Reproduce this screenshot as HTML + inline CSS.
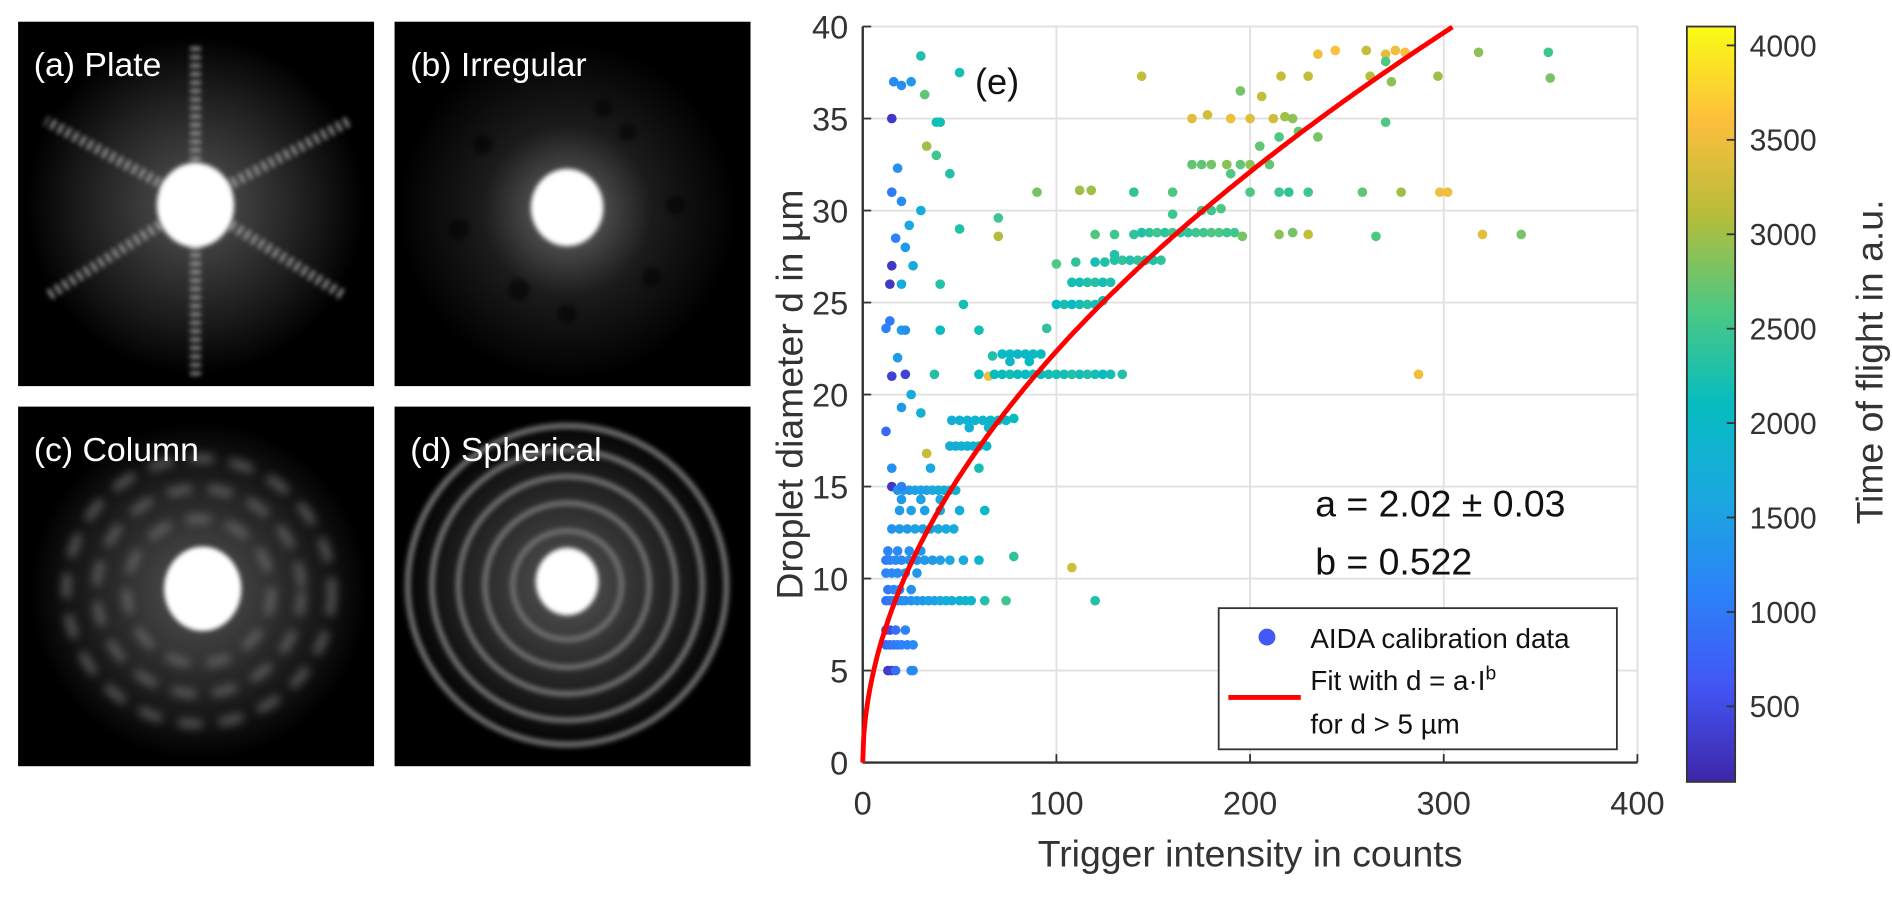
<!DOCTYPE html>
<html><head><meta charset="utf-8">
<style>
body{margin:0;background:#fff;width:1892px;height:897px;overflow:hidden;font-family:"Liberation Sans",sans-serif;}
svg{display:block;}
</style></head>
<body>
<svg id="root" width="1892" height="897" viewBox="0 0 1568 743.4" preserveAspectRatio="none" xmlns="http://www.w3.org/2000/svg">
<defs>
<filter id="bl2"><feGaussianBlur stdDeviation="2"/></filter>
<filter id="bl4"><feGaussianBlur stdDeviation="4"/></filter>
<filter id="bl8"><feGaussianBlur stdDeviation="8"/></filter>
<radialGradient id="glow"><stop offset="0" stop-color="#888"/><stop offset="0.5" stop-color="#222"/><stop offset="1" stop-color="#000"/></radialGradient>
<radialGradient id="glow2"><stop offset="0" stop-color="#555"/><stop offset="0.7" stop-color="#1a1a1a"/><stop offset="1" stop-color="#000"/></radialGradient>
<linearGradient id="parula" x1="0" y1="1" x2="0" y2="0">
<stop offset="0" stop-color="#3e26a8"/><stop offset="0.125" stop-color="#4255f4"/><stop offset="0.25" stop-color="#2c82f8"/><stop offset="0.375" stop-color="#1aa8df"/><stop offset="0.5" stop-color="#06bcc0"/><stop offset="0.625" stop-color="#4cc882"/><stop offset="0.75" stop-color="#b6bd3a"/><stop offset="0.875" stop-color="#fdbe3d"/><stop offset="1" stop-color="#f9fb15"/>
</linearGradient>
</defs>

<g>
<rect x="15" y="18" width="295" height="302" fill="#000"/>
<circle cx="162" cy="170" r="140" fill="url(#glow2)"/>
<g stroke="#bbb" stroke-width="9" stroke-dasharray="3 4" filter="url(#bl2)" opacity="0.8">
<line x1="162" y1="168" x2="162" y2="35"/><line x1="162" y1="168" x2="162" y2="312"/>
<line x1="162" y1="168" x2="38" y2="100"/><line x1="162" y1="168" x2="290" y2="100"/>
<line x1="162" y1="168" x2="40" y2="245"/><line x1="162" y1="168" x2="285" y2="245"/>
</g>
<ellipse cx="162" cy="170" rx="32" ry="35" fill="#fff" filter="url(#bl2)"/>
<text x="28" y="63" fill="#fff" font-size="28">(a) Plate</text>
</g>
<g>
<rect x="327" y="18" width="295" height="302" fill="#000"/>
<circle cx="470" cy="175" r="140" fill="url(#glow)" opacity="0.8"/>
<g fill="#000" opacity="0.5" filter="url(#bl2)">
<circle cx="400" cy="120" r="8"/><circle cx="430" cy="240" r="9"/><circle cx="520" cy="110" r="7"/><circle cx="540" cy="230" r="8"/><circle cx="380" cy="190" r="9"/><circle cx="560" cy="170" r="8"/><circle cx="470" cy="260" r="8"/><circle cx="500" cy="90" r="7"/>
</g>
<ellipse cx="470" cy="172" rx="30" ry="32" fill="#fff" filter="url(#bl2)"/>
<text x="340" y="63" fill="#fff" font-size="28">(b) Irregular</text>
</g>
<g>
<rect x="15" y="337" width="295" height="298" fill="#000"/>
<circle cx="165" cy="490" r="140" fill="url(#glow2)"/>
<g fill="none" stroke="#777" stroke-width="6" stroke-dasharray="20 14" filter="url(#bl4)" opacity="0.8">
<circle cx="165" cy="490" r="60"/><circle cx="165" cy="490" r="85"/><circle cx="165" cy="490" r="110"/>
</g>
<ellipse cx="168" cy="488" rx="32" ry="35" fill="#fff" filter="url(#bl2)"/>
<text x="28" y="382" fill="#fff" font-size="28">(c) Column</text>
</g>
<g>
<rect x="327" y="337" width="295" height="298" fill="#000"/>
<circle cx="470" cy="485" r="140" fill="url(#glow2)"/>
<g fill="none" stroke="#6a6a6a" stroke-width="5" filter="url(#bl2)">
<circle cx="470" cy="485" r="45"/><circle cx="470" cy="485" r="68"/><circle cx="470" cy="485" r="90"/><circle cx="470" cy="485" r="112"/><circle cx="470" cy="485" r="132"/>
</g>
<ellipse cx="470" cy="482" rx="26" ry="28" fill="#fff" filter="url(#bl2)"/>
<text x="340" y="382" fill="#fff" font-size="28">(d) Spherical</text>
</g>

<g id="chart"></g>
<g id="cbar"></g>
</svg>
<script>
const xTicks=[0,100,200,300,400];
const yTicks=[0,5,10,15,20,25,30,35,40];
const cTicks=[500,1000,1500,2000,2500,3000,3500,4000];
const fitA=2.02, fitB=0.522;
const ptsX=[13,15,17,25,26,12,14,16,18,20,23,26,12,14,17,22,12,14,16,18,20,22,25,28,31,34,37,40,43,46,50,53,56,63,74,120,13,16,19,25,12,15,18,22,28,12,14,17,20,24,28,32,36,40,45,52,60,78,108,13,18,24,30,15,19,23,27,31,35,39,43,47,15,18,21,24,27,30,33,36,39,42,45,48,20,30,40,19,25,32,40,50,63,33,45,48,51,54,57,60,64,46,50,54,58,62,66,70,74,78,55,65,22,37,60,65,68,72,76,80,84,88,92,96,100,104,108,112,116,120,124,128,134,287,67,72,76,80,84,88,92,76,86,20,40,60,95,52,100,104,108,112,116,120,124,40,108,112,116,120,124,128,100,110,120,125,130,134,138,142,146,150,154,130,70,120,130,140,144,148,152,156,160,164,168,172,176,180,184,188,192,196,215,222,230,265,320,340,70,160,175,180,185,90,112,118,140,160,200,215,220,230,258,278,298,302,170,175,180,188,195,200,210,190,33,205,215,225,235,15,38,170,178,190,200,212,218,222,270,195,206,216,144,230,262,297,355,273,235,244,260,270,275,280,318,354,270,30,20,25,50,32,40,38,18,45,20,30,24,17,50,15,14,20,26,22,12,18,15,25,30,20,12,15,60,35,20,16,15,22,14];
const ptsY=[5,5,5,5,5,6.4,6.4,6.4,6.4,6.4,6.4,6.4,7.2,7.2,7.2,7.2,8.8,8.8,8.8,8.8,8.8,8.8,8.8,8.8,8.8,8.8,8.8,8.8,8.8,8.8,8.8,8.8,8.8,8.8,8.8,8.8,9.4,9.4,9.4,9.4,10.3,10.3,10.3,10.3,10.3,11,11,11,11,11,11,11,11,11,11,11,11,11.2,10.6,11.5,11.5,11.5,11.5,12.7,12.7,12.7,12.7,12.7,12.7,12.7,12.7,12.7,15,14.8,14.8,14.8,14.8,14.8,14.8,14.8,14.8,14.8,14.8,14.8,14.3,14.3,14.3,13.7,13.7,13.7,13.7,13.7,13.7,16.8,17.2,17.2,17.2,17.2,17.2,17.2,17.2,18.6,18.6,18.6,18.6,18.6,18.6,18.6,18.6,18.7,18.2,18.2,21.1,21.1,21.1,21,21.1,21.1,21.1,21.1,21.1,21.1,21.1,21.1,21.1,21.1,21.1,21.1,21.1,21.1,21.1,21.1,21.1,21.1,22.1,22.2,22.2,22.2,22.2,22.2,22.2,21.8,21.8,23.5,23.5,23.5,23.6,24.9,24.9,24.9,24.9,24.9,24.9,24.9,25.1,26,26.1,26.1,26.1,26.1,26.1,26.1,27.1,27.2,27.2,27.2,27.3,27.3,27.3,27.3,27.3,27.3,27.3,27.6,28.6,28.7,28.7,28.7,28.8,28.8,28.8,28.8,28.8,28.8,28.8,28.8,28.8,28.8,28.8,28.8,28.8,28.6,28.7,28.8,28.7,28.6,28.7,28.7,29.6,29.8,30,30,30.1,31,31.1,31.1,31,31,31,31,31,31,31,31,31,31,32.5,32.5,32.5,32.5,32.5,32.5,32.5,32,33.5,33.5,34,34.3,34,35,34.8,35,35.2,35,35,35,35.1,35,34.8,36.5,36.2,37.3,37.3,37.3,37.3,37.3,37.2,37,38.5,38.7,38.7,38.5,38.7,38.6,38.6,38.6,38.1,38.4,36.8,37,37.5,36.3,34.8,33,32.3,32,30.5,30,29.2,28.5,29,27,26,26,27,23.5,23.6,22,21,20,19,19.3,18,16,16,16,15,37,31,28,24];
const ptsC=[300,350,900,1200,1200,800,900,1000,1000,1100,1100,1200,400,500,900,1100,900,1000,1100,1200,1200,1300,1300,1400,1400,1500,1500,1600,1700,1700,1800,1900,1900,2300,2500,2300,1000,1100,1200,1300,1100,1200,1200,1300,1400,1000,1100,1200,1200,1300,1300,1400,1400,1500,1600,1700,1900,2400,3300,1100,1200,1300,1400,1300,1400,1400,1500,1500,1500,1600,1600,1700,300,1300,1400,1400,1500,1500,1500,1600,1600,1700,1700,1800,1400,1500,1600,1400,1500,1500,1600,1700,2000,3200,1700,1700,1800,1800,1800,1900,1900,1700,1800,1800,1900,1900,1900,2000,2000,2100,1800,1900,400,2300,2100,3500,2100,2100,2200,2100,2100,2200,2100,2200,2200,2200,2300,2200,2300,2200,2100,2200,2300,3500,2300,2000,2000,1900,2000,2000,2100,2000,2100,1500,2100,2200,2400,2200,2100,2200,2100,2200,2300,2200,2200,2300,2200,2200,2300,2300,2200,2300,2600,2400,2200,2300,2300,2400,2300,2400,2300,2300,2400,2300,3100,2600,2500,2400,2300,2400,2500,2400,2500,2400,2400,2500,2500,2600,2600,2500,2500,2800,2900,2800,3200,2600,3400,2800,2500,2500,2600,2500,2600,2800,3000,3000,2400,2600,2600,2500,2400,2500,2700,3000,3500,3500,2700,2700,2800,2900,2700,2900,2700,2600,3000,2700,2600,2700,2800,300,2200,3400,3300,3500,3400,3300,3000,2900,2600,2800,3200,3200,3200,3200,3100,3000,2800,2900,3500,3600,3200,3400,3500,3600,2900,2500,2600,2300,1300,1400,2200,2700,2200,2500,1300,2300,1200,1700,1600,1100,2300,300,300,1700,1700,1300,1100,1400,400,1700,1800,1400,800,1300,2200,1600,1100,1200,1000,1400,1000];

const NS="http://www.w3.org/2000/svg";
const X0=715,X1=1357,Y0=632,Y1=22;
const xs=v=>X0+(v-0)/400*(X1-X0);
const ys=v=>Y0-(v/40)*(Y0-Y1);
const CB_X=1398,CB_W=40,CB_T=22,CB_B=648,CMIN=100,CMAX=4100;
const cy=v=>CB_B-(v-CMIN)/(CMAX-CMIN)*(CB_B-CB_T);
const stops=[[0,[62,38,168]],[0.125,[66,85,244]],[0.25,[44,130,248]],[0.375,[26,168,223]],[0.5,[6,188,192]],[0.625,[76,200,130]],[0.75,[182,189,58]],[0.875,[253,190,61]],[1,[249,251,21]]];
function cmap(v){let t=Math.max(0,Math.min(1,(v-CMIN)/(CMAX-CMIN)));for(let i=1;i<stops.length;i++){if(t<=stops[i][0]){const a=stops[i-1],b=stops[i],f=(t-a[0])/(b[0]-a[0]);return 'rgb('+a[1].map((c,k)=>Math.round(c+(b[1][k]-c)*f)).join(',')+')';}}return 'rgb(249,251,21)';}
function el(tag,attrs,parent,txt){const e=document.createElementNS(NS,tag);for(const k in attrs)e.setAttribute(k,attrs[k]);if(txt!==undefined)e.textContent=txt;parent.appendChild(e);return e;}
const ch=document.getElementById('chart');
let e;
e=el('rect',{x:X0,y:Y1,width:X1-X0,height:Y0-Y1,fill:'#fff',stroke:'#e6e6e6','stroke-width':1.5},ch);


xTicks.forEach(t=>{
 e=el('line',{x1:xs(t),x2:xs(t),y1:Y1,y2:Y0,stroke:'#e0e0e0','stroke-width':1.5},ch);
 
 
 el('line',{x1:xs(t),x2:xs(t),y1:Y0,y2:Y0-7,stroke:'#333','stroke-width':1.5},ch);
 e=el('text',{x:xs(t),y:Y0+43,'text-anchor':'middle','font-size':27,fill:'#333'},ch,String(t));
 
 
});
yTicks.forEach(t=>{
 e=el('line',{x1:X0,x2:X1,y1:ys(t),y2:ys(t),stroke:'#e0e0e0','stroke-width':1.5},ch);
 
 
 el('line',{x1:X0,x2:X0+7,y1:ys(t),y2:ys(t),stroke:'#333','stroke-width':1.5},ch);
 e=el('text',{x:X0-12,y:ys(t)+10,'text-anchor':'end','font-size':27,fill:'#333'},ch,String(t));
 
 
});
el('line',{x1:X0,x2:X1,y1:Y0,y2:Y0,stroke:'#333','stroke-width':2},ch);
el('line',{x1:X0,x2:X0,y1:Y0,y2:Y1,stroke:'#333','stroke-width':2},ch);
ptsX.forEach((x,i)=>{
 e=el('circle',{cx:xs(x),cy:ys(ptsY[i]),r:4,fill:cmap(ptsC[i])},ch);
 
 
});
let d='';for(let I=0;I<=400;I+=0.5){const v=fitA*Math.pow(I,fitB);if(v>40)break;d+=(d?'L':'M')+xs(I).toFixed(1)+','+ys(v).toFixed(1);}
e=el('path',{d:d,fill:'none',stroke:'#f00','stroke-width':4},ch);


e=el('text',{x:808,y:78,'font-size':30,fill:'#111'},ch,'(e)');


e=el('text',{x:1090,y:428,'font-size':31,fill:'#111'},ch,'a = 2.02 ± 0.03');


e=el('text',{x:1090,y:476,'font-size':31,fill:'#111'},ch,'b = 0.522');


const lg=el('g',{},ch);


el('rect',{x:1010,y:504,width:330,height:117,fill:'#fff',stroke:'#333','stroke-width':1.5},lg);
e=el('circle',{cx:1050,cy:528,r:7,fill:'#4359f5'},lg);


e=el('text',{x:1086,y:537,'font-size':23,fill:'#111'},lg,'AIDA calibration data');


e=el('line',{x1:1018,x2:1078,y1:578,y2:578,stroke:'#f00','stroke-width':4},lg);


e=el('text',{x:1086,y:572,'font-size':23,fill:'#111'},lg);
e.innerHTML='Fit with d = a·I<tspan dy="-9" font-size="16">b</tspan>';


e=el('text',{x:1086,y:608,'font-size':23,fill:'#111'},lg,'for d > 5 µm');


e=el('text',{x:1036,y:718,'text-anchor':'middle','font-size':31,fill:'#333'},ch,'Trigger intensity in counts');


e=el('text',{x:0,y:0,'text-anchor':'middle','font-size':31,fill:'#333',transform:'translate(665,327) rotate(-90)'},ch,'Droplet diameter d in µm');


const cb=document.getElementById('cbar');
e=el('rect',{x:CB_X,y:CB_T,width:CB_W,height:CB_B-CB_T,fill:'url(#parula)',stroke:'#333','stroke-width':1.5},cb);


cTicks.forEach(t=>{
 el('line',{x1:CB_X+CB_W-7,x2:CB_X+CB_W,y1:cy(t),y2:cy(t),stroke:'#333','stroke-width':1.5},cb);
 e=el('text',{x:CB_X+52,y:cy(t)+9,'font-size':25,fill:'#333'},cb,String(t));
 
 
});
e=el('text',{x:0,y:0,'text-anchor':'middle','font-size':31,fill:'#333',transform:'translate(1560,300) rotate(-90)'},cb,'Time of flight in a.u.');


</script>
</body></html>
